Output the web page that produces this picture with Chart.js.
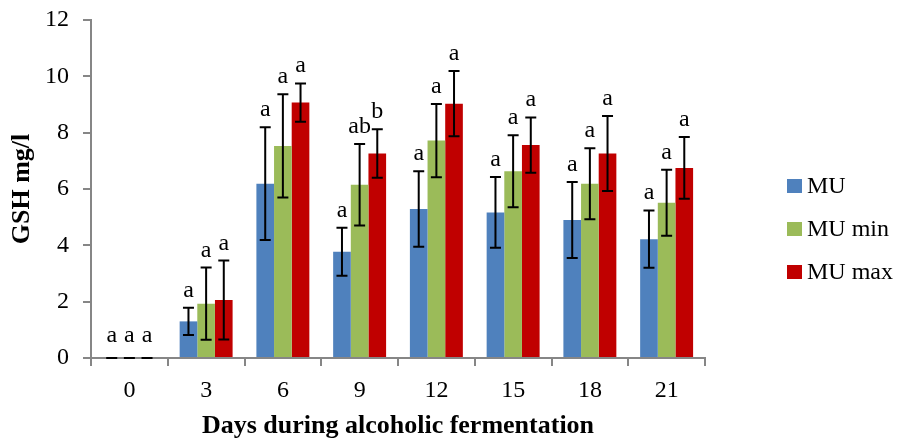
<!DOCTYPE html>
<html>
<head>
<meta charset="utf-8">
<script src="https://cdn.jsdelivr.net/npm/chart.js@4.4.1/dist/chart.umd.min.js"></script>
<style>
  html, body { margin: 0; padding: 0; background: #ffffff; }
  #wrap { width: 902px; height: 442px; position: relative; }
</style>
</head>
<body>
<div id="wrap"><canvas id="c"></canvas></div>
<script>
// Days of alcoholic fermentation
const days = ['0', '3', '6', '9', '12', '15', '18', '21'];

// Mean GSH (mg/l) per treatment
const muValues    = [0, 1.30, 6.19, 3.77, 5.29, 5.17, 4.90, 4.22];
const muMinValues = [0, 1.93, 7.53, 6.15, 7.72, 6.63, 6.19, 5.51];
const muMaxValues = [0, 2.06, 9.07, 7.26, 9.03, 7.56, 7.26, 6.75];

// Standard deviations
const muErr    = [0, 0.48, 2.00, 0.85, 1.34, 1.26, 1.35, 1.02];
const muMinErr = [0, 1.28, 1.83, 1.45, 1.30, 1.28, 1.26, 1.17];
const muMaxErr = [0, 1.40, 0.68, 0.86, 1.16, 0.98, 1.33, 1.10];

// Significance letters
const muLetters    = ['a', 'a', 'a', 'a', 'a', 'a', 'a', 'a'];
const muMinLetters = ['a', 'a', 'a', 'ab', 'a', 'a', 'a', 'a'];
const muMaxLetters = ['a', 'a', 'a', 'b', 'a', 'a', 'a', 'a'];

const seriesNames = ['MU', 'MU min', 'MU max'];
const seriesColors = ['#4F81BD', '#9BBB59', '#C00000'];

const SERIF = '"Liberation Serif", "Times New Roman", serif';
const AXIS_GREY = '#868686';

// Error bars with caps plus the letter above each bar
const errorBarPlugin = {
  id: 'errorBars',
  afterDatasetsDraw(chart) {
    const ctx = chart.ctx;
    const yScale = chart.scales.y;
    ctx.save();
    chart.data.datasets.forEach((ds, di) => {
      const meta = chart.getDatasetMeta(di);
      meta.data.forEach((bar, i) => {
        const v = ds.data[i];
        const e = ds.errors[i];
        const yHi = yScale.getPixelForValue(v + e);
        const yLo = yScale.getPixelForValue(Math.max(0, v - e));
        const x = bar.x;
        ctx.strokeStyle = '#000000';
        ctx.lineWidth = 2;
        ctx.beginPath();
        ctx.moveTo(x, yHi); ctx.lineTo(x, yLo);
        ctx.moveTo(x - 5.5, yHi); ctx.lineTo(x + 5.5, yHi);
        ctx.moveTo(x - 5.5, yLo); ctx.lineTo(x + 5.5, yLo);
        ctx.stroke();

        ctx.fillStyle = '#000000';
        ctx.font = '24px ' + SERIF;
        ctx.textAlign = 'center';
        ctx.textBaseline = 'alphabetic';
        ctx.fillText(ds.letters[i], x, yHi - (e === 0 ? 16 : 11));
      });
    });
    ctx.restore();
  }
};

// Legend stacked at the right of the plot
const sideLegendPlugin = {
  id: 'sideLegend',
  afterDraw(chart) {
    const ctx = chart.ctx;
    ctx.save();
    chart.data.datasets.forEach((ds, i) => {
      const cy = 186 + i * 43;
      ctx.fillStyle = ds.backgroundColor;
      ctx.fillRect(787, cy - 7, 15, 14);
      ctx.fillStyle = '#000000';
      ctx.font = '24px ' + SERIF;
      ctx.textAlign = 'left';
      ctx.textBaseline = 'middle';
      ctx.fillText(ds.label, 807, cy + 1);
    });
    ctx.restore();
  }
};

const makeSet = (i, data, errors, letters) => ({
  label: seriesNames[i],
  data: data,
  errors: errors,
  letters: letters,
  backgroundColor: seriesColors[i],
  borderWidth: 0,
  categoryPercentage: 0.69,
  barPercentage: 1.0
});

new Chart(document.getElementById('c'), {
  type: 'bar',
  data: {
    labels: days,
    datasets: [
      makeSet(0, muValues, muErr, muLetters),
      makeSet(1, muMinValues, muMinErr, muMinLetters),
      makeSet(2, muMaxValues, muMaxErr, muMaxLetters)
    ]
  },
  options: {
    responsive: true,
    maintainAspectRatio: false,
    animation: false,
    layout: { padding: { top: 20, right: 197, left: 0, bottom: 0 } },
    plugins: {
      legend: { display: false },
      tooltip: { enabled: false }
    },
    scales: {
      x: {
        grid: {
          display: true,
          drawOnChartArea: false,
          offset: true,
          color: AXIS_GREY,
          lineWidth: 2,
          tickLength: 8
        },
        border: { color: AXIS_GREY, width: 2 },
        ticks: {
          color: '#000000',
          font: { family: SERIF, size: 24 },
          padding: 10,
          maxRotation: 0
        },
        title: {
          display: true,
          text: 'Days during alcoholic fermentation',
          color: '#000000',
          font: { family: SERIF, size: 26, weight: 'bold' },
          padding: { top: 0, bottom: 0 }
        },
        afterFit(scale) {
          scale.height = 84;
          scale.paddingLeft = 0;
          scale.paddingRight = 0;
        }
      },
      y: {
        min: 0,
        max: 12,
        grid: {
          display: true,
          drawOnChartArea: false,
          color: AXIS_GREY,
          lineWidth: 2,
          tickLength: 8
        },
        border: { color: AXIS_GREY, width: 2 },
        ticks: {
          stepSize: 2,
          color: '#000000',
          font: { family: SERIF, size: 24 },
          padding: 14
        },
        title: {
          display: true,
          text: 'GSH mg/l',
          color: '#000000',
          font: { family: SERIF, size: 26, weight: 'bold' },
          padding: { top: 7, bottom: 0 }
        },
        afterFit(scale) {
          scale.width = 91;
          scale.paddingTop = 0;
          scale.paddingBottom = 0;
        }
      }
    }
  },
  plugins: [errorBarPlugin, sideLegendPlugin]
});
</script>
</body>
</html>
